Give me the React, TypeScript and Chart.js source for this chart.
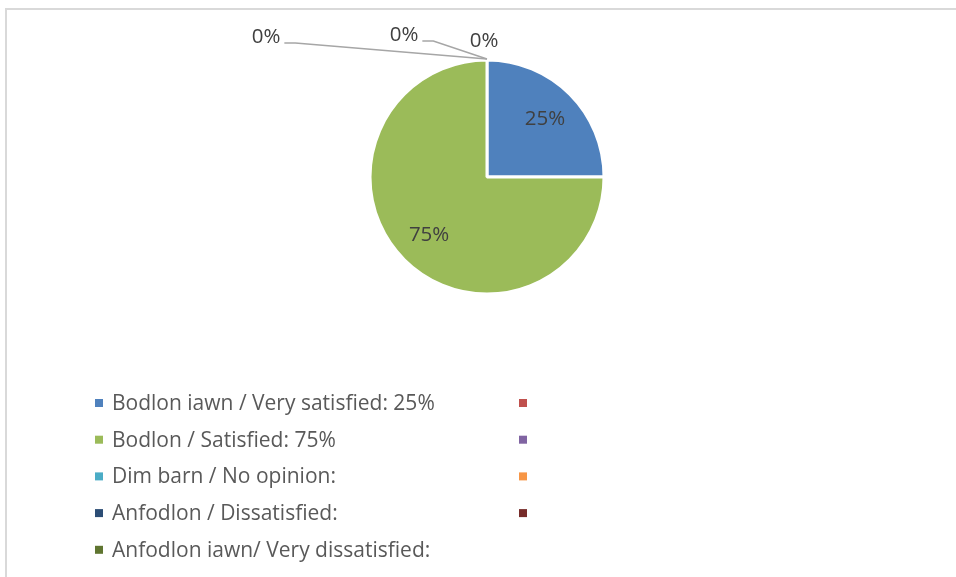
import React, { useEffect, useRef } from "react";
import { Chart, registerables } from "chart.js";

Chart.register(...registerables);

const categories: string[] = [
  "Bodlon iawn / Very satisfied: 25%",
  "",
  "Bodlon / Satisfied: 75%",
  "",
  "Dim barn / No opinion:",
  "",
  "Anfodlon / Dissatisfied:",
  "",
  "Anfodlon iawn/ Very dissatisfied:",
];

const values: (number | null)[] = [25, null, 75, null, 0, null, 0, null, 0];

const colors: string[] = [
  "#4F81BD",
  "#C0504D",
  "#9BBB59",
  "#8064A2",
  "#4BACC6",
  "#F79646",
  "#2C4D75",
  "#772C2A",
  "#5F7530",
];

const valueLabels: string[] = ["25%", "", "75%", "", "0%", "", "0%", "", "0%"];

// label offsets (from the top of the pie) for zero slices, with leader lines
const zeroLabelLayout = [
  { dx: -221, dy: -23, line: true },
  { dx: -83, dy: -25, line: true },
  { dx: -3, dy: -19, line: false },
];

const FONT = "'Open Sans', sans-serif";

const framePlugin = {
  id: "frame",
  beforeDraw(chart: any) {
    const ctx = chart.ctx;
    ctx.save();
    ctx.fillStyle = "#ffffff";
    ctx.fillRect(0, 0, chart.width, chart.height);
    ctx.strokeStyle = "#D9D9D9";
    ctx.lineWidth = 2;
    ctx.beginPath();
    ctx.moveTo(6, chart.height + 5);
    ctx.lineTo(6, 9);
    ctx.lineTo(chart.width + 5, 9);
    ctx.stroke();
    ctx.restore();
  },
};

const labelsPlugin = {
  id: "sliceLabels",
  afterDatasetsDraw(chart: any) {
    const ctx = chart.ctx;
    const meta = chart.getDatasetMeta(0);
    ctx.save();
    ctx.font = `20.5px ${FONT}`;
    ctx.fillStyle = "#404040";
    ctx.textAlign = "center";
    ctx.textBaseline = "middle";
    let zi = 0;
    meta.data.forEach((arc: any, i: number) => {
      const v = values[i];
      if (v === null || v === undefined) return;
      const { x, y, startAngle, endAngle, outerRadius } = arc.getProps(
        ["x", "y", "startAngle", "endAngle", "outerRadius"],
        true
      );
      if (v === 0) {
        const lay = zeroLabelLayout[zi++];
        if (!lay) return;
        const topX = x + Math.cos(startAngle) * outerRadius;
        const topY = y + Math.sin(startAngle) * outerRadius;
        const tx = topX + lay.dx;
        const ty = topY + lay.dy;
        ctx.fillStyle = "#404040";
        ctx.fillText(valueLabels[i], tx, ty);
        if (lay.line) {
          const w = ctx.measureText(valueLabels[i]).width;
          ctx.strokeStyle = "#A6A6A6";
          ctx.lineWidth = 1.5;
          ctx.beginPath();
          ctx.moveTo(tx + w / 2 + 4, ty + 6);
          ctx.lineTo(tx + w / 2 + 15, ty + 6);
          ctx.lineTo(topX, topY - 1);
          ctx.stroke();
        }
        return;
      }
      const mid = (startAngle + endAngle) / 2;
      const r = outerRadius * 0.7;
      ctx.fillText(valueLabels[i], x + Math.cos(mid) * r, y + Math.sin(mid) * r);
    });
    ctx.restore();
  },
};

const legendPlugin = {
  id: "customLegend",
  afterDraw(chart: any) {
    const ctx = chart.ctx;
    ctx.save();
    ctx.font = `21px ${FONT}`;
    ctx.textBaseline = "middle";
    ctx.textAlign = "left";
    const colX = [95, 519];
    const top = 403;
    const rowH = 36.7;
    categories.forEach((label, i) => {
      const col = i % 2;
      const row = Math.floor(i / 2);
      const y = top + row * rowH;
      ctx.fillStyle = colors[i];
      ctx.fillRect(colX[col], y - 4, 8, 8);
      if (label) {
        ctx.fillStyle = "#595959";
        ctx.fillText(label, colX[col] + 17, y + 1);
      }
    });
    ctx.restore();
  },
};

export default function App() {
  const ref = useRef<HTMLCanvasElement | null>(null);
  useEffect(() => {
    document.body.style.margin = "0";
    const canvas = ref.current!;
    const chart = new Chart(canvas, {
      type: "pie",
      data: {
        labels: categories,
        datasets: [
          {
            data: values as any,
            backgroundColor: colors,
            borderColor: "#ffffff",
            borderWidth: 3,
          },
        ],
      },
      options: {
        animation: false,
        responsive: false,
        radius: 117,
        layout: { padding: { left: 18, right: 0, top: 40, bottom: 263 } },
        plugins: {
          legend: { display: false },
          tooltip: { enabled: false },
        },
      } as any,
      plugins: [framePlugin, labelsPlugin, legendPlugin],
    });
    return () => chart.destroy();
  }, []);
  return (
    <div style={{ width: 956, height: 577 }}>
      <canvas ref={ref} width={956} height={577} style={{ display: "block" }} />
    </div>
  );
}
